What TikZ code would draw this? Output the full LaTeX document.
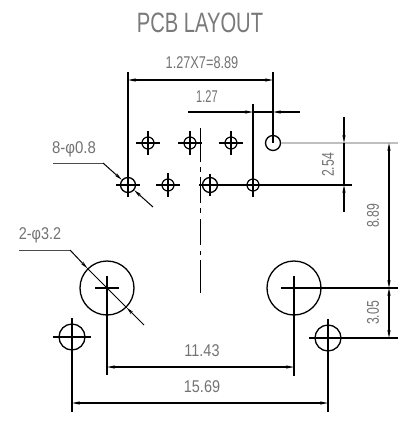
\documentclass[tikz,border=0pt]{standalone}
\usepackage{fontspec}
\usepackage{graphicx}
\setmainfont{Liberation Sans}
\usetikzlibrary{arrows.meta}
\newcommand\cadt[2][0.72]{\scalebox{#1}[1]{#2}}
\tikzset{
  x=1pt,y=-1pt,
  pinhole/.style={circle,draw=black,line width=1.2pt,minimum size=12pt,inner sep=0pt},
  pinend/.style={circle,draw=black,line width=1.3pt,minimum size=15pt,inner sep=0pt},
  mount/.style={circle,draw=black,line width=1.3pt,minimum size=54pt,inner sep=0pt},
  small/.style={circle,draw=black,line width=1.3pt,minimum size=26pt,inner sep=0pt},
  cross/.style={line width=1.1pt,black},
  ext/.style={line width=1.1pt,black},
  dim/.style={line width=1.1pt,black,-{Stealth[length=8pt,width=3.2pt]}},
  dimb/.style={line width=1.1pt,black,{Stealth[length=8pt,width=3.2pt]}-{Stealth[length=8pt,width=3.2pt]}},
  lead/.style={line width=1pt,black,-{Stealth[length=8pt,width=3.2pt]}},
  label/.style={inner sep=0pt,text=black!55,font=\fontsize{17}{17}\selectfont},
  title/.style={inner sep=0pt,text=black!52,font=\fontsize{28}{28}\selectfont},
}
\newcommand\crossat[2]{\draw[cross] ([xshift=-#2pt]#1.center) -- ([xshift=#2pt]#1.center) ([yshift=-#2pt]#1.center) -- ([yshift=#2pt]#1.center);}
\begin{document}
\begin{tikzpicture}
\useasboundingbox (0,0) rectangle (405,421);
\fill[white] (0,0) rectangle (405,421);
% holes
\node[pinhole] (a1) at (148,143) {};
\node[pinhole] (a2) at (190,143) {};
\node[pinhole] (a3) at (231,143) {};
\node[pinend]  (a4) at (273,143) {};
\node[pinend]  (b1) at (128,185) {};
\node[pinhole] (b2) at (168,185) {};
\node[pinend]  (b3) at (210,185) {};
\node[pinhole] (b4) at (253,185) {};
\node[mount] (m1) at (107,288) {};
\node[mount] (m2) at (294,288) {};
\node[small] (s1) at (72,337) {};
\node[small] (s2) at (328,338) {};
\crossat{a1}{12}\crossat{a2}{12}\crossat{a3}{12}
\crossat{b1}{12}\crossat{b2}{12}\crossat{b4}{12}
\draw[cross] ([xshift=-11pt]b3.center) -- ([xshift=7pt]b3.center) ([yshift=-11pt]b3.center) -- ([yshift=11pt]b3.center);
\crossat{m1}{12}
\crossat{s1}{19}\crossat{s2}{19}
\draw[cross] (m2.center) ++(0,-12) -- ++(0,12);
% centre line
\coordinate (c1) at (200.5,128);
\coordinate (c2) at (200.5,293);
\draw[line width=1.2pt,black,dash pattern=on 34pt off 5pt on 5pt off 5pt on 26pt off 5pt on 5pt off 6pt on 26pt off 6pt on 4pt off 5pt on 34pt off 20pt] (c1) -- (c2);
% 1.27X7
\coordinate (e1) at (128,72); \coordinate (e2) at (273,72);
\draw[ext] (e1) -- (b1.center);
\draw[ext] (e2) -- (a4.center);
\coordinate (d1) at (128,80); \coordinate (d2) at (273,80);
\draw[dimb] (d1) -- (d2);
\node[label] (t1) at (202,63) {\cadt[0.75]{1.27X7=8.89}};
% 1.27
\coordinate (e3) at (253,104);
\draw[ext] (e3) -- ([yshift=11pt]b4.center);
\coordinate (d3) at (188,112); \coordinate (d4) at (253,112);
\coordinate (d5) at (300,112); \coordinate (d6) at (273,112);
\draw[dim] (d3) -- (d4);
\draw[dim] (d5) -- (d6);
\draw[ext] (d4) -- (d6);
\node[label] (t2) at (207,97) {\cadt[0.65]{1.27}};
% horizontal extension lines
\coordinate (h1) at (398,143);
\draw[line width=1.2pt,black!25] (a4.east) -- (h1);
\coordinate (h2) at (352,185);
\draw[ext] (b3.east) -- (h2);
\coordinate (h3) at (398,288);
\draw[ext] ([xshift=-13pt]m2.center) -- (h3);
\coordinate (h4) at (398,338);
\draw[ext] (s2.east) -- (h4);
% 2.54
\coordinate (k1) at (344,117); \coordinate (k2) at (344,143);
\coordinate (k3) at (344,212); \coordinate (k4) at (344,185);
\draw[dim] (k1) -- (k2);
\draw[dim] (k3) -- (k4);
\draw[ext] (k2) -- (k4);
\node[label,rotate=90] (t3) at (328,165) {\cadt[0.72]{2.54}};
% 8.89 and 3.05
\coordinate (l1) at (389,143); \coordinate (l2) at (389,288); \coordinate (l3) at (389,338);
\draw[dimb] (l1) -- (l2);
\draw[dimb] (l2) -- (l3);
\node[label,rotate=90] (t4) at (373,216) {\cadt[0.72]{8.89}};
\node[label,rotate=90] (t5) at (373,313) {\cadt[0.72]{3.05}};
% 11.43
\draw[ext] (m1.center) -- ++(0,87) coordinate (n1);
\draw[ext] (m2.center) -- ++(0,88) coordinate (n2);
\coordinate (q1) at (107,367); \coordinate (q2) at (294,367);
\draw[dimb] (q1) -- (q2);
\node[label] (t6) at (202,351) {\cadt[0.85]{11.43}};
% 15.69
\draw[ext] (s1.center) -- ++(0,75) coordinate (n3);
\draw[ext] (s2.center) -- ++(0,74) coordinate (n4);
\coordinate (r1) at (72,403); \coordinate (r2) at (328,403);
\draw[dimb] (r1) -- (r2);
\node[label] (t7) at (202,387) {\cadt[0.85]{15.69}};
% leaders
\coordinate (u1) at (53,163); \coordinate (u2) at (103,163); \coordinate (u3) at (153,207);
\draw[line width=1pt,black!70] (u1) -- (u2);
\draw[lead] (u2) -- (b1.140);
\draw[lead] (u3) -- (b1.320);
\node[label] (t8) at (74,149) {\cadt[0.88]{8-φ0.8}};
\coordinate (v1) at (19,250); \coordinate (v2) at (70,250); \coordinate (v3) at (144,325);
\draw[line width=1pt,black!70] (v1) -- (v2);
\draw[lead] (v2) -- (m1.135);
\draw[lead] (v3) -- (m1.315);
\draw[line width=1pt,black] (m1.135) -- (m1.315);
\node[label] (t9) at (40,235) {\cadt[0.85]{2-φ3.2}};
% title
\node[title] (title) at (200,23) {\cadt[0.72]{PCB LAYOUT}};
\end{tikzpicture}
\end{document}
